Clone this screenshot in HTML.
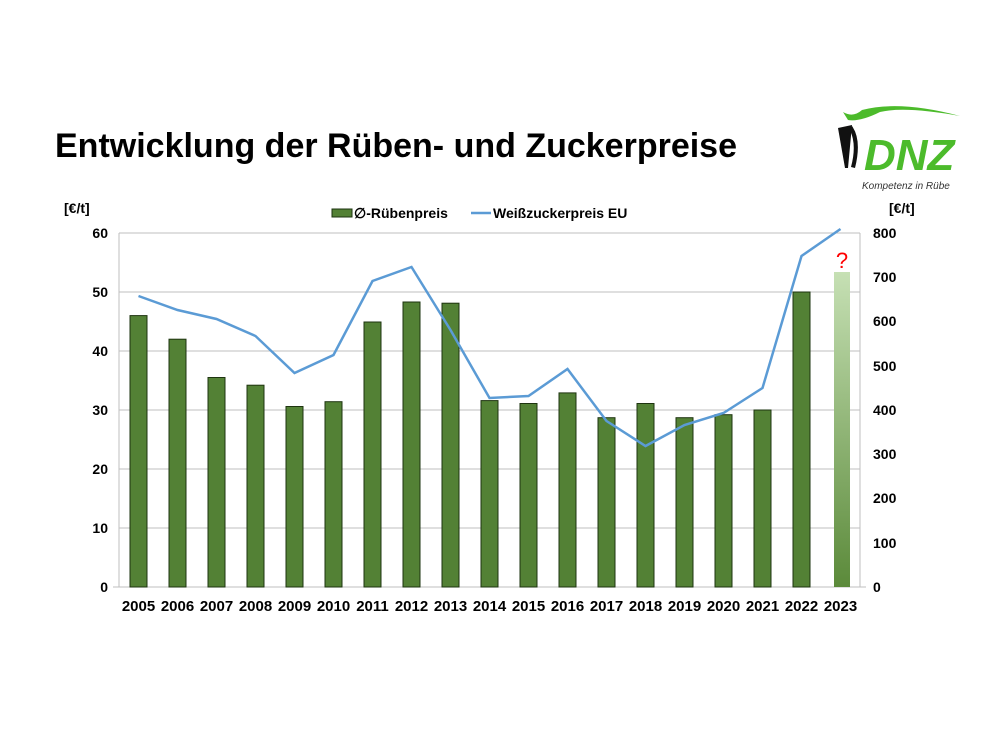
<!DOCTYPE html>
<html><head><meta charset="utf-8"><style>body{margin:0;background:#fff}svg{display:block}</style></head><body>
<svg width="1000" height="750" xmlns="http://www.w3.org/2000/svg" font-family="Liberation Sans, Arial, sans-serif">
<defs><linearGradient id="g" x1="0" y1="0" x2="0" y2="1"><stop offset="0" stop-color="#c6e0b4"/><stop offset="1" stop-color="#5b8a3a"/></linearGradient></defs>
<text x="55" y="157" font-size="34" font-weight="bold" fill="#000" textLength="682" lengthAdjust="spacingAndGlyphs">Entwicklung der Rüben- und Zuckerpreise</text>
<!-- logo -->
<path d="M843 112 Q853 118 862 110 Q900 100 960 116 Q905 106 880 112 Q860 122 848 120 Z" fill="#4cbb2b"/>
<path d="M838 128 L852 125 L848 168 L845 168 Z" fill="#111"/>
<path d="M852 126 Q862 140 855 168 L851 167 Q857 145 850 130 Z" fill="#111"/>
<text x="864" y="170" font-size="44" font-weight="bold" font-style="italic" fill="#4cbb2b">DNZ</text>
<text x="862" y="189" font-size="10" font-style="italic" fill="#333">Kompetenz in Rübe</text>
<!-- grid -->
<g stroke="#bfbfbf" stroke-width="1">
<line x1="119" y1="233" x2="860" y2="233"/><line x1="119" y1="292" x2="860" y2="292"/><line x1="119" y1="351" x2="860" y2="351"/><line x1="119" y1="410" x2="860" y2="410"/><line x1="119" y1="469" x2="860" y2="469"/><line x1="119" y1="528" x2="860" y2="528"/>
<line x1="119" y1="233" x2="119" y2="587"/><line x1="860" y1="233" x2="860" y2="587"/>
<line x1="113" y1="587" x2="866" y2="587"/>
</g>
<g font-size="14" font-weight="bold" fill="#000">
<text x="108" y="238" text-anchor="end">60</text><text x="108" y="297" text-anchor="end">50</text><text x="108" y="356" text-anchor="end">40</text><text x="108" y="415" text-anchor="end">30</text><text x="108" y="474" text-anchor="end">20</text><text x="108" y="533" text-anchor="end">10</text><text x="108" y="592" text-anchor="end">0</text>
<text x="873" y="238">800</text><text x="873" y="282">700</text><text x="873" y="326">600</text><text x="873" y="371">500</text><text x="873" y="415">400</text><text x="873" y="459">300</text><text x="873" y="503">200</text><text x="873" y="548">100</text><text x="873" y="592">0</text>
<text x="64" y="213">[€/t]</text><text x="889" y="213">[€/t]</text>
</g>
<g fill="#538135" stroke="#1e3410" stroke-width="1">
<rect x="130" y="315.6" width="17" height="271.4"/><rect x="169" y="339.2" width="17" height="247.8"/><rect x="208" y="377.5" width="17" height="209.5"/><rect x="247" y="385.2" width="17" height="201.8"/><rect x="286" y="406.5" width="17" height="180.5"/><rect x="325" y="401.7" width="17" height="185.3"/><rect x="364" y="322" width="17" height="265"/><rect x="403" y="302" width="17" height="285"/><rect x="442" y="303.2" width="17" height="283.8"/><rect x="481" y="400.6" width="17" height="186.4"/><rect x="520" y="403.5" width="17" height="183.5"/><rect x="559" y="392.9" width="17" height="194.1"/><rect x="598" y="417.7" width="17" height="169.3"/><rect x="637" y="403.5" width="17" height="183.5"/><rect x="676" y="417.7" width="17" height="169.3"/><rect x="715" y="414.7" width="17" height="172.3"/><rect x="754" y="410" width="17" height="177"/><rect x="793" y="292" width="17" height="295"/>
</g>
<rect x="834" y="272" width="16" height="315" fill="url(#g)"/>
<text x="842" y="268" font-size="22" fill="#ff0000" text-anchor="middle">?</text>
<polyline fill="none" stroke="#5b9bd5" stroke-width="2.5" points="138.5,296 177.5,310 216.5,319 255.5,336 294.5,373 333.5,355 372.5,281 411.5,267 450.5,330 489.5,398 528.5,396 567.5,369 606.5,421 645.5,446 684.5,425 723.5,413 762.5,388 801.5,256 840.5,229"/>
<g font-size="15" font-weight="bold" fill="#000" text-anchor="middle">
<text x="138.5" y="611">2005</text><text x="177.5" y="611">2006</text><text x="216.5" y="611">2007</text><text x="255.5" y="611">2008</text><text x="294.5" y="611">2009</text><text x="333.5" y="611">2010</text><text x="372.5" y="611">2011</text><text x="411.5" y="611">2012</text><text x="450.5" y="611">2013</text><text x="489.5" y="611">2014</text><text x="528.5" y="611">2015</text><text x="567.5" y="611">2016</text><text x="606.5" y="611">2017</text><text x="645.5" y="611">2018</text><text x="684.5" y="611">2019</text><text x="723.5" y="611">2020</text><text x="762.5" y="611">2021</text><text x="801.5" y="611">2022</text><text x="840.5" y="611">2023</text>
</g>
<rect x="332" y="209" width="20" height="8" fill="#538135" stroke="#1e3410"/>
<text x="354" y="218" font-size="14" font-weight="bold">∅-Rübenpreis</text>
<line x1="471" y1="213" x2="491" y2="213" stroke="#5b9bd5" stroke-width="2.5"/>
<text x="493" y="218" font-size="14" font-weight="bold">Weißzuckerpreis EU</text>
</svg>
</body></html>
